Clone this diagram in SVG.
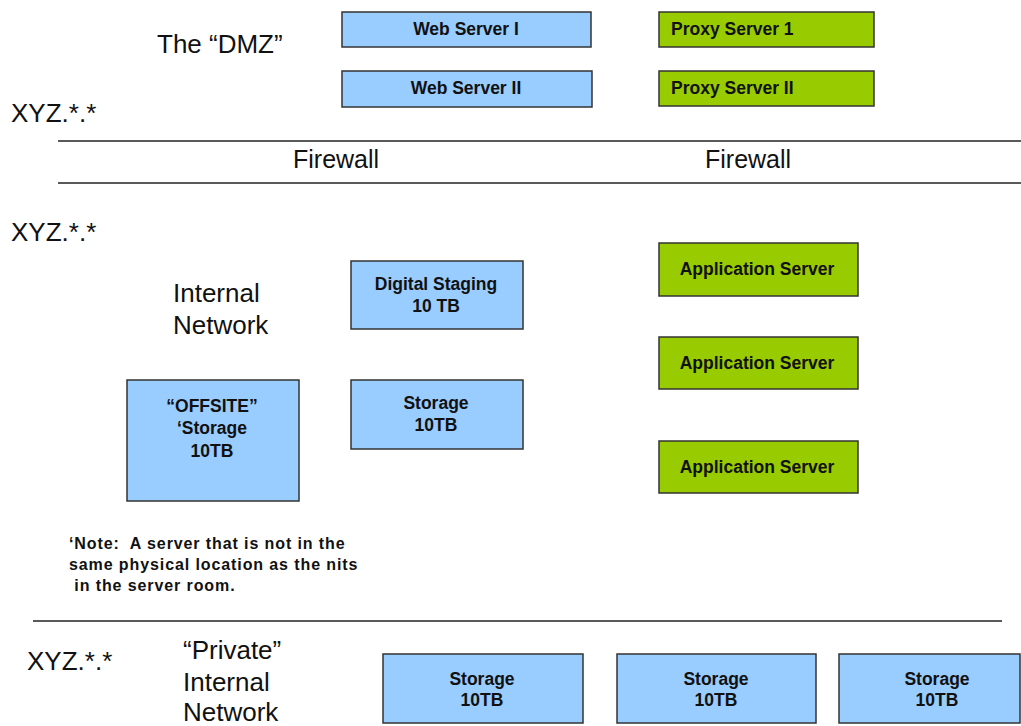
<svg xmlns="http://www.w3.org/2000/svg" width="1021" height="726" viewBox="0 0 1021 726">
<style>
.blue{fill:#99CCFF;stroke:#333;stroke-width:1.5}
.green{fill:#99CC00;stroke:#333;stroke-width:1.5}
.lbl{font-family:"Liberation Sans",Arial,sans-serif;font-weight:bold;font-size:17.5px;fill:#111}
.c{text-anchor:middle}
.big{font-family:"Liberation Sans",Arial,sans-serif;font-size:26px;fill:#111}
.fw{font-family:"Liberation Sans",Arial,sans-serif;font-size:25px;fill:#111}
.note{font-family:"Liberation Sans",Arial,sans-serif;font-weight:bold;font-size:16px;letter-spacing:0.9px;fill:#111;white-space:pre}
.sep{stroke:#222;stroke-width:1.5}
</style>
<rect width="1021" height="726" fill="#fff"/>
<g id="labels">
<text class="big" x="157" y="53">The “DMZ”</text>
<text class="big" x="11" y="122">XYZ.*.*</text>
<text class="big" x="11" y="241">XYZ.*.*</text>
<text class="big" x="173" y="302">Internal</text>
<text class="big" x="173" y="334">Network</text>
<text class="big" x="27" y="670">XYZ.*.*</text>
<text class="big" x="183" y="659">“Private”</text>
<text class="big" x="183" y="691">Internal</text>
<text class="big" x="183" y="721">Network</text>
<text class="fw" x="293" y="168">Firewall</text>
<text class="fw" x="705" y="168">Firewall</text>
<text class="note" x="69" y="549" xml:space="preserve">‘Note:  A server that is not in the</text>
<text class="note" x="69" y="570">same physical location as the nits</text>
<text class="note" x="69" y="591" xml:space="preserve"> in the server room.</text>
</g>
<g id="separators">
<line class="sep" x1="58" y1="141" x2="1021" y2="141"/>
<line class="sep" x1="58" y1="183" x2="1021" y2="183"/>
<line class="sep" x1="33" y1="621" x2="1002" y2="621"/>
</g>
<g id="web1"><rect class="blue" x="342" y="12" width="249" height="35"/><text class="lbl c" x="466" y="35">Web Server I</text></g>
<g id="web2"><rect class="blue" x="342" y="71" width="250" height="36"/><text class="lbl c" x="466" y="94">Web Server II</text></g>
<g id="proxy1"><rect class="green" x="659" y="12" width="215" height="35"/><text class="lbl" x="671" y="35">Proxy Server 1</text></g>
<g id="proxy2"><rect class="green" x="659" y="71" width="215" height="35"/><text class="lbl" x="671" y="94">Proxy Server II</text></g>
<g id="staging"><rect class="blue" x="351" y="261" width="172" height="68"/><text class="lbl c" x="436" y="290">Digital Staging</text><text class="lbl c" x="436" y="312">10 TB</text></g>
<g id="storage"><rect class="blue" x="351" y="380" width="172" height="69"/><text class="lbl c" x="436" y="409">Storage</text><text class="lbl c" x="436" y="431">10TB</text></g>
<g id="offsite"><rect class="blue" x="127" y="380" width="172" height="121"/><text class="lbl c" x="212" y="412">“OFFSITE”</text><text class="lbl c" x="212" y="434">‘Storage</text><text class="lbl c" x="212" y="457">10TB</text></g>
<g id="app1"><rect class="green" x="659" y="243" width="199" height="53"/><text class="lbl c" x="757" y="275">Application Server</text></g>
<g id="app2"><rect class="green" x="659" y="337" width="199" height="52"/><text class="lbl c" x="757" y="369">Application Server</text></g>
<g id="app3"><rect class="green" x="659" y="441" width="199" height="52"/><text class="lbl c" x="757" y="473">Application Server</text></g>
<g id="priv1"><rect class="blue" x="383" y="654" width="200" height="69"/><text class="lbl c" x="482" y="685">Storage</text><text class="lbl c" x="482" y="706">10TB</text></g>
<g id="priv2"><rect class="blue" x="617" y="654" width="199" height="69"/><text class="lbl c" x="716" y="685">Storage</text><text class="lbl c" x="716" y="706">10TB</text></g>
<g id="priv3"><rect class="blue" x="839" y="654" width="181" height="69"/><text class="lbl c" x="937" y="685">Storage</text><text class="lbl c" x="937" y="706">10TB</text></g>
</svg>
